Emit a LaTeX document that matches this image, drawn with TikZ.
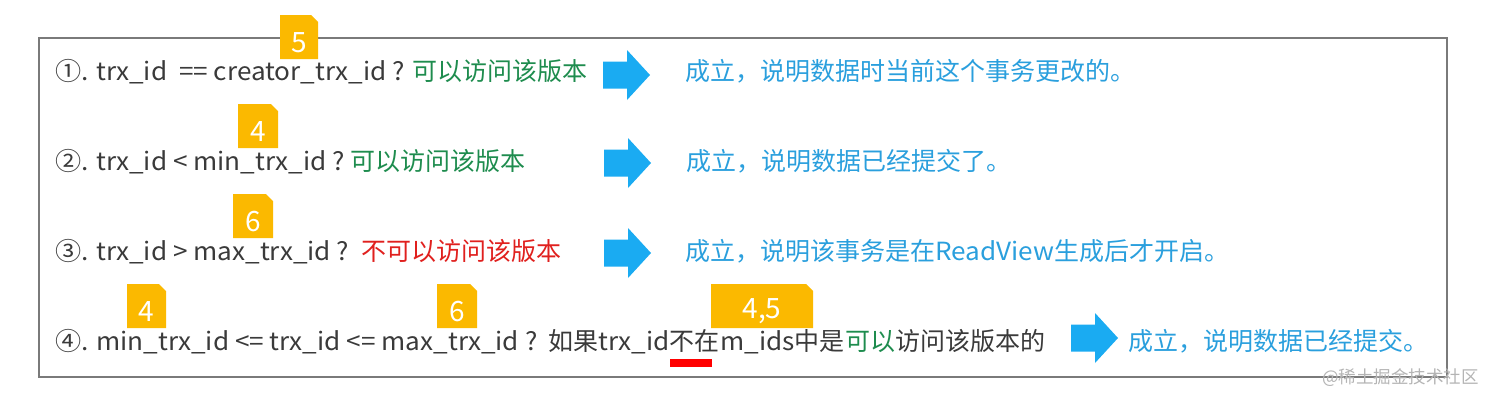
\documentclass[tikz,border=0pt]{standalone}
\usepackage{fontspec}
\setmainfont{Noto Sans CJK SC}
\newfontfamily\latinf[FakeStretch=1.045]{Noto Sans CJK SC}
\definecolor{txt}{HTML}{3A3A3A}
\definecolor{okgreen}{HTML}{1E8C4E}
\definecolor{nored}{HTML}{E0201E}
\definecolor{resblue}{HTML}{2A9FDD}
\definecolor{arrowblue}{HTML}{1AABF2}
\definecolor{tagfill}{HTML}{FBB900}
\definecolor{boxline}{HTML}{7A7A7A}
\definecolor{wmark}{HTML}{B4B4B4}
\tikzset{
  seg/.style={inner sep=0pt, anchor=base west, font=\fontsize{25}{28}\selectfont, text=txt},
  okseg/.style={seg, text=okgreen},
  noseg/.style={seg, text=nored},
  resseg/.style={seg, text=resblue},
  tagtext/.style={inner sep=0pt, anchor=center, font=\fontsize{28}{30}\selectfont, text=white},
  outerbox/.style={draw=boxline, line width=1.4pt},
}
\newcommand\tagmark[5]{%
  \fill[tagfill] (#2,#3) -- ++(#4-7,0) -- ++(7,7) -- (#2+#4,#3+44) -- (#2,#3+44) -- cycle;
  \node[tagtext] (#1) at (#2+#4/2,#3+27.5) {#5};
}
\newcommand\bluearrow[3]{%
  \coordinate (#1) at (#2,#3);
  \fill[arrowblue] (#1) ++(0,-13.5) -- ++(24,0) -- ++(0,-11.5) -- ++(23,25) -- ++(-23,25) -- ++(0,-11.5) -- ++(-24,0) -- cycle;
}
\begin{document}
\begin{tikzpicture}[x=1pt,y=-1pt]
\useasboundingbox (0,0) rectangle (1497,402);
\draw[outerbox] (39,38) rectangle (1447,377);

% row 1
\node[seg] (r1q) at (55,80) {\latinf ①. trx\_id\ \ == creator\_trx\_id ?};
\node[okseg] (r1ok) at (412,80) {可以访问该版本};
\bluearrow{a1}{603}{75}
\node[resseg] (r1res) at (685,80) {成立，说明数据时当前这个事务更改的。};

% row 2
\node[seg] (r2q) at (55,170) {\latinf ②. trx\_id < min\_trx\_id ?};
\node[okseg] (r2ok) at (350,170) {可以访问该版本};
\bluearrow{a2}{604}{163}
\node[resseg] (r2res) at (686,170) {成立，说明数据已经提交了。};

% row 3
\node[seg] (r3q) at (55,260) {\latinf ③. trx\_id > max\_trx\_id ?};
\node[noseg] (r3no) at (361,260) {不可以访问该版本};
\bluearrow{a3}{604}{253}
\node[resseg] (r3res) at (685,260) {成立，说明该事务是在{\latinf ReadView}生成后才开启。};

% row 4
\node[seg] (r4a) at (55,350) {{\latinf ④. min\_trx\_id <= trx\_id <= max\_trx\_id ?}\ \ 如果{\latinf trx\_id}};
\node[seg] (r4b) at (r4a.base east) {不在};
\node[seg] (r4c) at (r4b.base east) {{\latinf m\_ids}中是};
\node[okseg] (r4d) at (r4c.base east) {可以};
\node[seg] (r4e) at (r4d.base east) {访问该版本的};
\fill[red] (r4b.base west) ++(0,9) rectangle ++(42,8);
\bluearrow{a4}{1071}{338}
\node[resseg] (r4res) at (1128,350) {成立，说明数据已经提交。};

% tags
\tagmark{t1}{280}{15}{38}{5}
\tagmark{t2}{238}{104}{40}{4}
\tagmark{t3}{233}{194}{40}{6}
\tagmark{t4}{127}{284}{39}{4}
\tagmark{t5}{437}{284}{40}{6}
\tagmark{t6}{711}{284}{102}{4,5}

% watermark
\node[inner sep=0pt, anchor=west, font=\fontsize{17.5}{19}\selectfont, text=wmark] (wm) at (1322,378) {@稀土掘金技术社区};
\end{tikzpicture}
\end{document}
